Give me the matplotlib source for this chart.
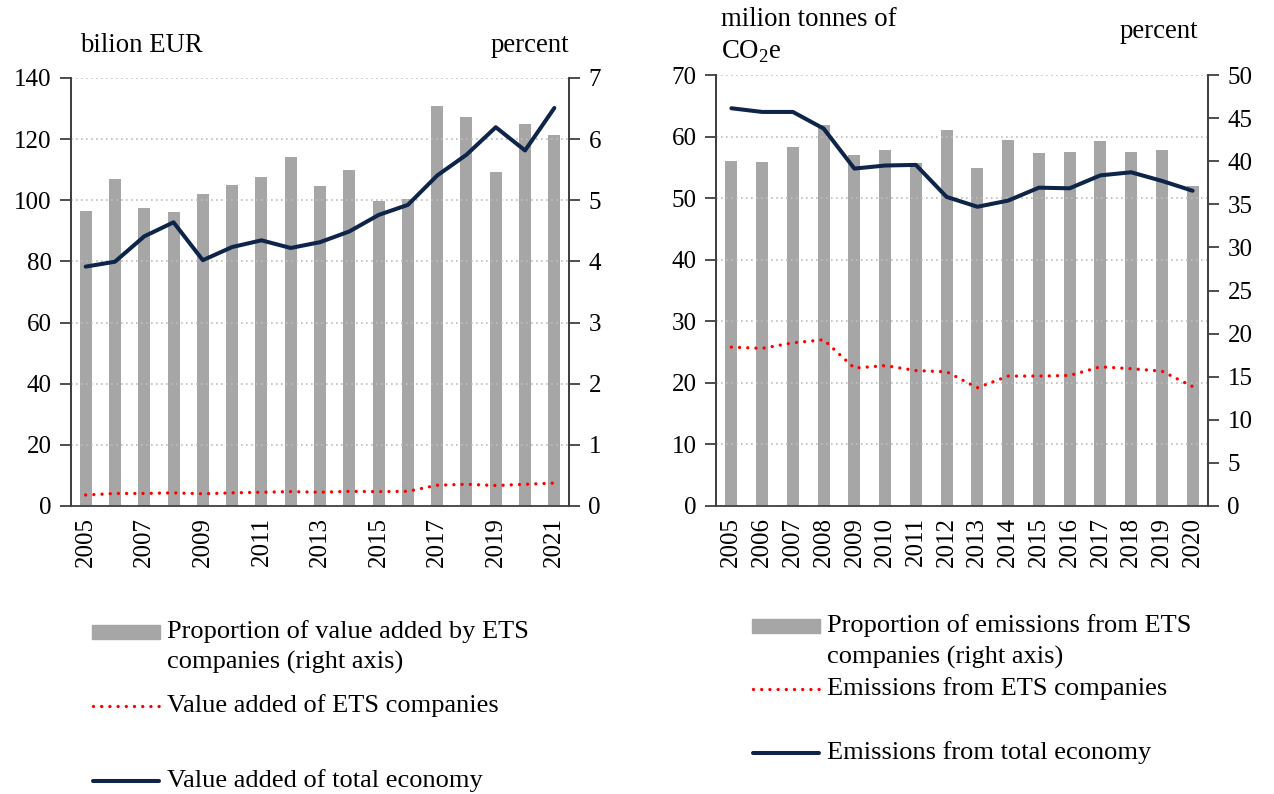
import numpy as np
import matplotlib
matplotlib.use('Agg')
import matplotlib.pyplot as plt
from matplotlib.patches import Rectangle
from matplotlib.lines import Line2D

plt.rcParams['font.family'] = ['Liberation Serif', 'DejaVu Serif']
plt.rcParams['mathtext.fontset'] = 'custom'
plt.rcParams['mathtext.rm'] = 'Liberation Serif'

# left panel: value added
years_va = list(range(2005, 2022))
share_va = [4.82, 5.35, 4.87, 4.81, 5.10, 5.25, 5.38, 5.71, 5.24, 5.49, 4.99, 5.02,
            6.55, 6.37, 5.46, 6.24, 6.07]
va_ets = [3.6, 4.1, 4.1, 4.3, 4.0, 4.3, 4.5, 4.7, 4.5, 4.8, 4.7, 4.8,
          6.8, 7.1, 6.7, 7.1, 7.5]
va_total = [78.3, 79.9, 88.2, 92.8, 80.4, 84.7, 86.9, 84.4, 86.3, 89.8, 95.2, 98.5,
            108.1, 114.9, 123.9, 116.3, 130.2]

# right panel: emissions
years_em = list(range(2005, 2021))
share_em = [40.0, 39.9, 41.7, 44.2, 40.7, 41.3, 39.8, 43.6, 39.2, 42.5, 40.9, 41.1,
            42.3, 41.1, 41.3, 37.1]
em_ets = [25.8, 25.6, 26.5, 27.0, 22.4, 22.8, 22.0, 21.8, 19.2, 21.1, 21.1, 21.2,
          22.6, 22.3, 21.9, 19.4]
em_total = [64.6, 64.0, 64.0, 61.3, 54.8, 55.3, 55.4, 50.2, 48.6, 49.6, 51.7, 51.6,
            53.7, 54.2, 52.8, 51.2]

GRAY = '#a6a6a6'
NAVY = '#0e2448'
RED = '#ff0000'
SPINE = '#404040'
FS = 18
TFS = 19.3
W, H = 1274, 794

fig = plt.figure(figsize=(W / 100, H / 100), dpi=100)


def panel(rect, years, share, ets, total, lmax, lstep, rmax, rstep, label_every, bw):
    ax = fig.add_axes(rect)
    ax2 = ax.twinx()
    ax.set_zorder(ax2.get_zorder() + 1)
    ax.patch.set_visible(False)
    n = len(years)
    x = np.arange(n)
    ax2.bar(x, share, width=bw, color=GRAY, zorder=1)
    ax.plot(x, ets, color=RED, lw=2.4, linestyle=(0, (0.01, 2.45)),
            dash_capstyle='round', zorder=3)
    ax.plot(x, total, color=NAVY, lw=2.9, solid_capstyle='round', zorder=4)
    ax.set_xlim(-0.5, n - 0.5)
    ax.set_ylim(0, lmax)
    ax2.set_ylim(0, rmax)
    ax.set_yticks(np.arange(0, lmax + 0.1, lstep))
    ax2.set_yticks(np.arange(0, rmax + 0.01, rstep))
    ax.yaxis.grid(True, linestyle=(0, (1, 2)), color='#bdbdbd', lw=1.2, zorder=0)
    ax.set_axisbelow(True)
    # ticks at category boundaries, labels at centers
    ax.set_xticks(np.arange(-0.5, n, 1.0))
    ax.set_xticklabels([])
    ax.set_xticks(x[::label_every], minor=True)
    ax.set_xticklabels([str(y) for y in years[::label_every]], minor=True, rotation=90)
    ax.tick_params(axis='x', which='minor', length=0, pad=8, labelsize=FS)
    ax.tick_params(axis='x', which='major', length=8, width=1.3, color=SPINE, direction='out')
    ax.tick_params(axis='y', length=8, width=1.3, color=SPINE, labelsize=FS, pad=6)
    ax2.tick_params(axis='y', length=8, width=1.3, color=SPINE, labelsize=FS, pad=6)
    ax2.set_xticks([])
    for a in (ax, ax2):
        a.spines['top'].set_visible(False)
        for s in ('left', 'right', 'bottom'):
            a.spines[s].set_color(SPINE)
            a.spines[s].set_linewidth(1.3)
    ax2.spines['bottom'].set_visible(False)
    return ax, ax2


panel([71 / W, 1 - 506 / H, 498 / W, 428 / H], years_va, share_va, va_ets, va_total,
      140, 20, 7, 1, 2, 0.41)
panel([716 / W, 1 - 506 / H, 492 / W, 431 / H], years_em, share_em, em_ets, em_total,
      70, 10, 50, 5, 1, 0.39)

# overlay in pixel coordinates for axis titles and legends
ov = fig.add_axes([0, 0, 1, 1])
ov.set_xlim(0, W)
ov.set_ylim(H, 0)
ov.axis('off')

ov.text(80, 46, 'bilion EUR', fontsize=TFS, va='center', ha='left')
ov.text(491, 45, 'percent', fontsize=TFS, va='center', ha='left')
ov.text(721, 20, 'milion tonnes of', fontsize=TFS, va='center', ha='left')
ov.text(721, 52, 'CO$_\\mathrm{2}$e', fontsize=TFS, va='center', ha='left')
ov.text(1120, 32, 'percent', fontsize=TFS, va='center', ha='left')

LFS = 19


def legend(x0, y_bar, y_txt2, y_red, y_navy, t1, t2, t3):
    ov.add_patch(Rectangle((x0, y_bar - 7), 68, 14, color=GRAY))
    ov.text(x0 + 75, y_bar, t1[0], fontsize=LFS, va='center', ha='left')
    ov.text(x0 + 75, y_txt2, t1[1], fontsize=LFS, va='center', ha='left')
    ov.add_line(Line2D([x0 + 1, x0 + 67], [y_red, y_red], color=RED, lw=2.4,
                       linestyle=(0, (0.01, 2.45)), dash_capstyle='round'))
    ov.text(x0 + 75, y_red, t2, fontsize=LFS, va='center', ha='left')
    ov.add_line(Line2D([x0 + 1, x0 + 67], [y_navy, y_navy], color=NAVY, lw=2.9,
                       solid_capstyle='round'))
    ov.text(x0 + 75, y_navy, t3, fontsize=LFS, va='center', ha='left')


legend(92, 632, 662, 706, 781,
       ('Proportion of value added by ETS', 'companies (right axis)'),
       'Value added of ETS companies', 'Value added of total economy')
legend(752, 626, 657, 689, 753,
       ('Proportion of emissions from ETS', 'companies (right axis)'),
       'Emissions from ETS companies', 'Emissions from total economy')

fig.savefig('out.png', dpi=100)
